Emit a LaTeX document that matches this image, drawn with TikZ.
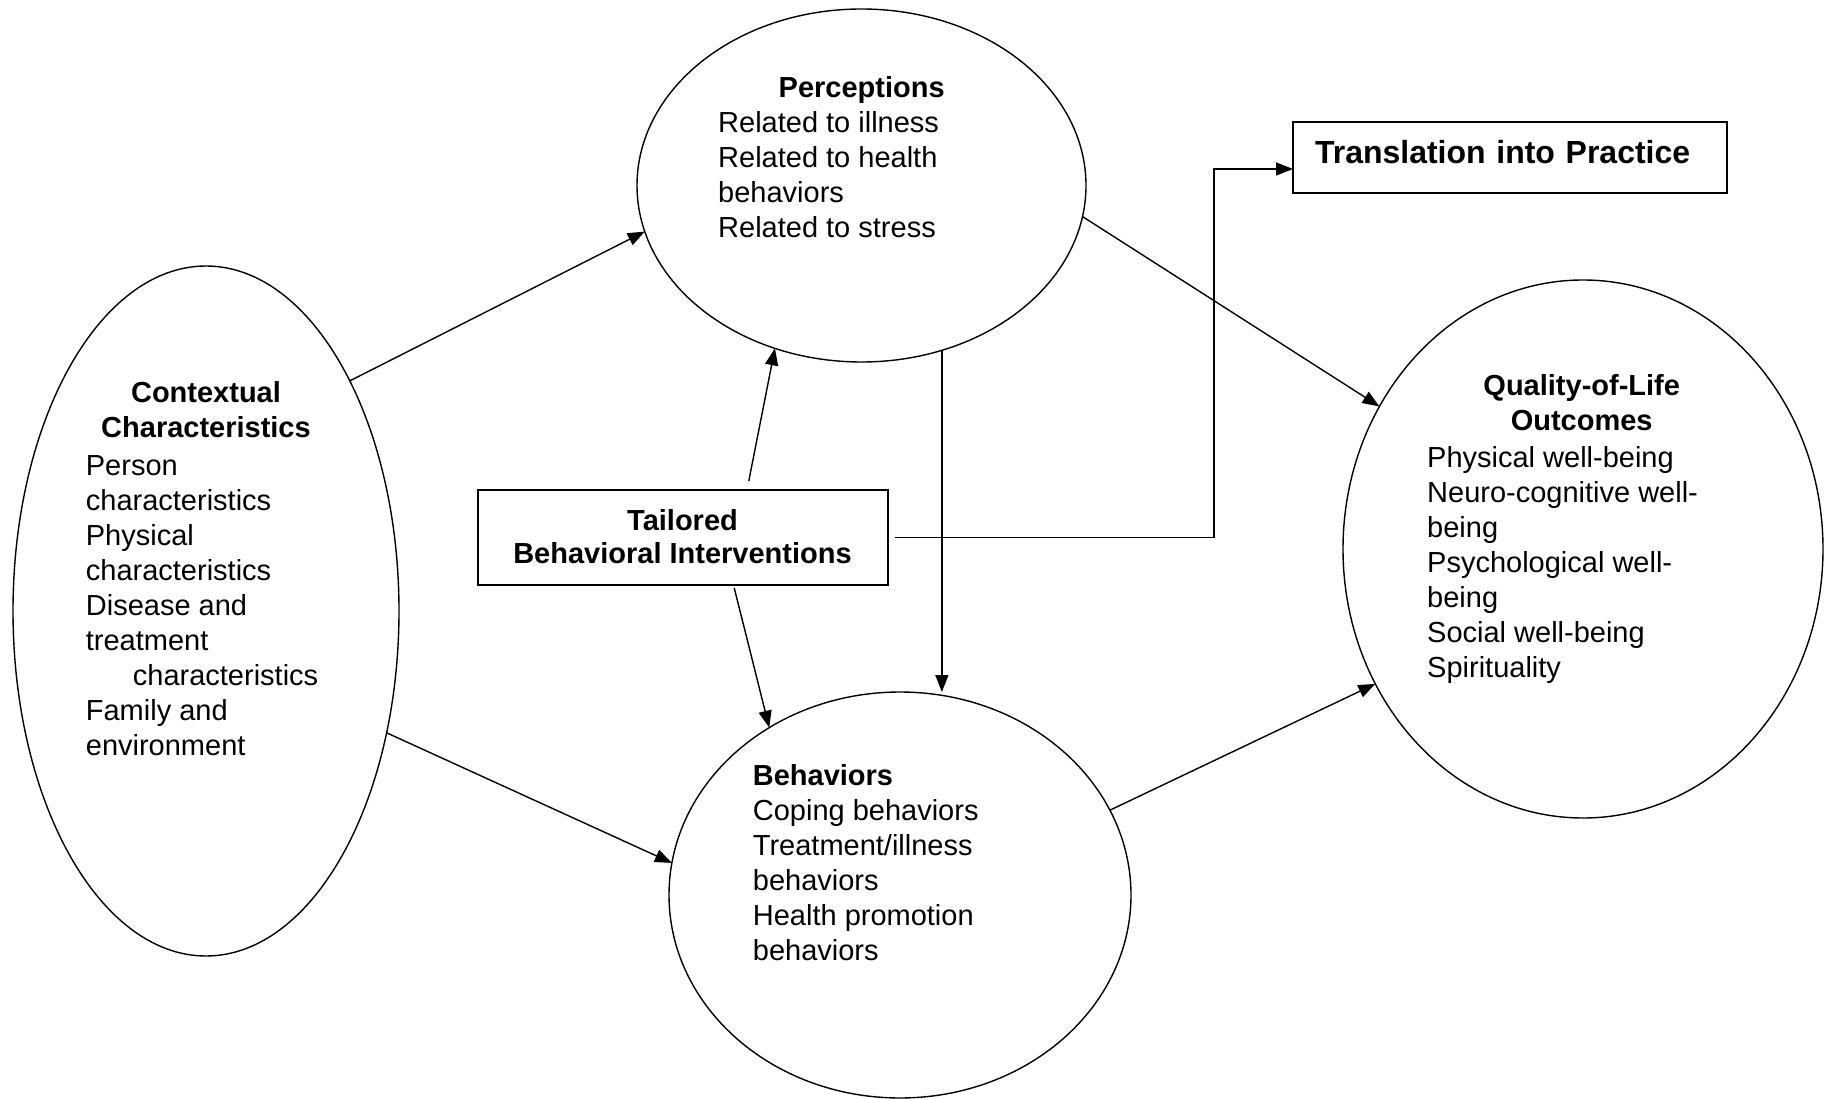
\documentclass[tikz,border=0pt]{standalone}
\usepackage{fontspec}
\setmainfont{Liberation Sans}
\usetikzlibrary{shapes.geometric,arrows.meta}

\begin{document}
\begin{tikzpicture}[x=1pt,y=-1pt,
    font=\fontsize{29}{35}\selectfont,
    oval/.style={draw,ellipse,line width=1.4pt,inner sep=0pt,outer sep=0pt},
    box/.style={draw,rectangle,line width=2pt,inner sep=0pt,outer sep=0pt},
    txt/.style={inner sep=0pt,align=left,anchor=base west},
    ttl/.style={inner sep=0pt,align=center,anchor=base,font=\fontsize{29}{35}\selectfont\bfseries},
    arr/.style={-{Triangle[length=17pt,width=13pt]},line width=1.4pt}]
  \useasboundingbox (0,0) rectangle (1832,1099);

  \node[oval,minimum width=386,minimum height=690] (ctx) at (206,611) {};
  \node[oval,minimum width=449,minimum height=353] (perc) at (861.5,185.5) {};
  \node[oval,minimum width=462,minimum height=406] (beh) at (900,895) {};
  \node[oval,minimum width=480,minimum height=538] (qol) at (1583,549) {};
  \node[box,minimum width=410,minimum height=95,align=center,text depth=3pt,font=\fontsize{29}{33}\selectfont\bfseries] (tib) at (682.5,537.5) {Tailored\\Behavioral Interventions};
  \node[box,minimum width=434,minimum height=71,text width=390,inner xsep=22,text depth=12pt,align=left,font=\fontsize{32}{35}\selectfont\bfseries] (tip) at (1510,157.5) {Translation into Practice};

  \node[ttl] (ctxtitle) at (206,437.7) {Contextual\\Characteristics};
  \node[txt] (ctxtext) at (85.7,755) {Person\\characteristics\\Physical\\characteristics\\Disease and\\treatment\\\hspace*{47pt}characteristics\\Family and\\environment};
  \node[ttl] (perctitle) at (861.7,98) {Perceptions};
  \node[txt] (perctext) at (718,238) {Related to illness\\Related to health\\behaviors\\Related to stress};
  \node[txt] (behtext) at (752.7,960) {\textbf{Behaviors}\\Coping behaviors\\Treatment/illness\\behaviors\\Health promotion\\behaviors};
  \node[ttl] (qoltitle) at (1581.7,430.5) {Quality-of-Life\\Outcomes};
  \node[txt] (qoltext) at (1427,677.3) {Physical well-being\\Neuro-cognitive well-\\being\\Psychological well-\\being\\Social well-being\\Spirituality};

  \coordinate (elbow) at (1214,169);
  \draw[arr] (ctx.58.4) -- (perc.192.5);
  \draw[arr] (ctx.-34.3) -- (beh.172.5);
  \draw[arr,shorten <=9pt] ([xshift=64.5pt]tib.north) -- (perc.242.9);
  \draw[arr,shorten <=3pt] ([xshift=51pt]tib.south) -- (beh.128.8);
  \draw[arr] ([xshift=7pt]tib.east) -| (elbow) -- (elbow -| tip.west);
  \draw[arr] (perc.-64.5) -- (perc.-64.5 |- beh.north);
  \draw[arr] (perc.-8.3) -- (qol.145.9);
  \draw[arr] (beh.22.8) -- (qol.213.2);
\end{tikzpicture}
\end{document}
